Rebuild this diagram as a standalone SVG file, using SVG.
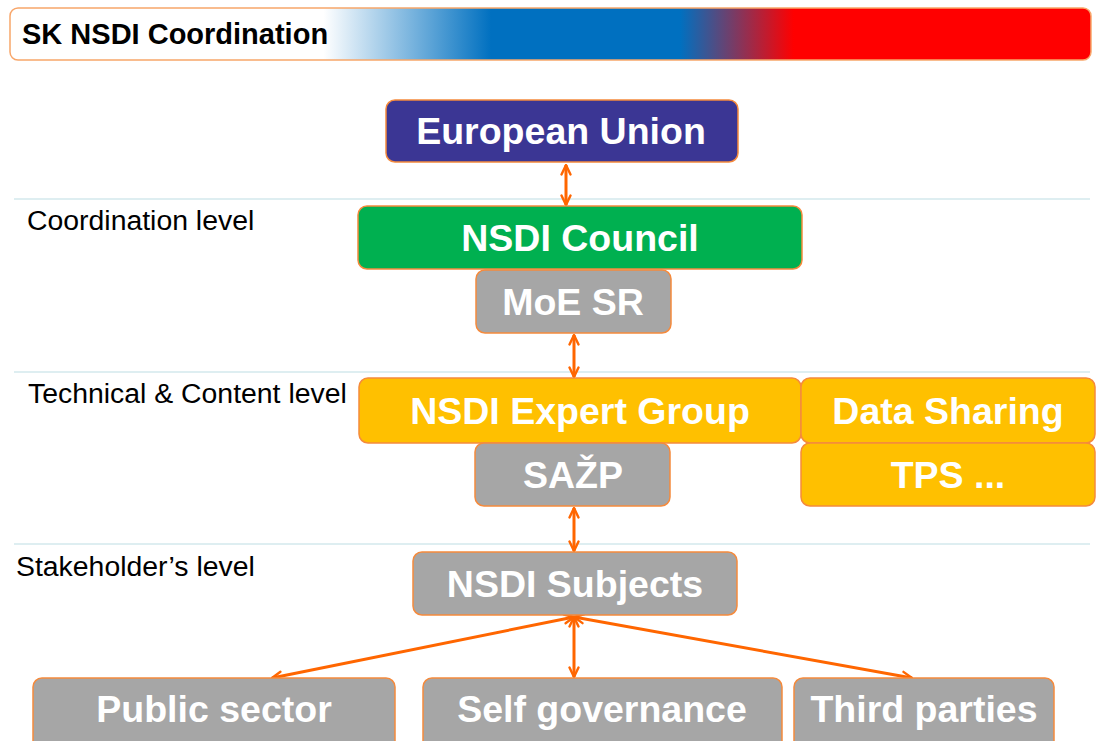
<svg xmlns="http://www.w3.org/2000/svg" width="1097" height="741" viewBox="0 0 1097 741">
<defs>
<linearGradient id="hdr" x1="10" y1="0" x2="1091" y2="0" gradientUnits="userSpaceOnUse">
<stop offset="0" stop-color="#FFFFFF"/>
<stop offset="0.29" stop-color="#FFFFFF"/>
<stop offset="0.445" stop-color="#0070C0"/>
<stop offset="0.62" stop-color="#0070C0"/>
<stop offset="0.725" stop-color="#FF0000"/>
<stop offset="1" stop-color="#FF0000"/>
</linearGradient>
<marker id="ah" viewBox="0 0 12 12" refX="11" refY="6" markerWidth="12" markerHeight="12" markerUnits="userSpaceOnUse" orient="auto-start-reverse">
<path d="M1.5,1.5 L11,6 L1.5,10.5" fill="none" stroke="#FF6600" stroke-width="2.4" stroke-linecap="round" stroke-linejoin="round"/>
</marker>
<style>
.box{stroke:#F58A3C;stroke-width:1.5}
.eu{fill:#3B3694}
.green{fill:#00B050}
.gray{fill:#A6A6A6}
.yellow{fill:#FFC000}
.bt{font-family:"Liberation Sans",Arial,sans-serif;font-weight:bold;font-size:37.5px;fill:#FFFFFF;text-anchor:middle}
.lvl{font-family:"Liberation Sans",Arial,sans-serif;font-size:28.4px;fill:#000000}
.sep{stroke:#D3E8EC;stroke-width:1.5}
.con{stroke:#FF6600;stroke-width:3;fill:none;marker-start:url(#ah);marker-end:url(#ah)}
</style>
</defs>
<rect width="1097" height="741" fill="#FFFFFF"/>
<g id="header">
<rect x="10" y="8" width="1081" height="52" rx="8" fill="url(#hdr)" stroke="#F8A66A" stroke-width="1.5"/>
<text x="22" y="44" font-family="Liberation Sans,Arial,sans-serif" font-weight="bold" font-size="29" fill="#000000">SK NSDI Coordination</text>
</g>
<g id="separators">
<line class="sep" x1="14" y1="199" x2="1090" y2="199"/>
<line class="sep" x1="14" y1="372" x2="1090" y2="372"/>
<line class="sep" x1="14" y1="544" x2="1090" y2="544"/>
</g>
<g id="levels">
<text class="lvl" x="27" y="230">Coordination level</text>
<text class="lvl" x="28" y="403">Technical &amp; Content level</text>
<text class="lvl" x="16" y="576">Stakeholder’s level</text>
</g>
<g id="connectors">
<line class="con" x1="566" y1="165" x2="566" y2="205"/>
<line class="con" x1="574" y1="335" x2="574" y2="377"/>
<line class="con" x1="574" y1="508" x2="574" y2="551"/>
<line class="con" x1="574" y1="617" x2="272" y2="678"/>
<line class="con" x1="574" y1="617" x2="574" y2="677"/>
<line class="con" x1="574" y1="617" x2="912" y2="678"/>
</g>
<g id="european-union">
<rect class="box eu" x="386" y="100" width="352" height="62" rx="9"/>
<text class="bt" x="561" y="144">European Union</text>
</g>
<g id="nsdi-council">
<rect class="box green" x="358" y="206" width="444" height="63" rx="9"/>
<text class="bt" x="580" y="251">NSDI Council</text>
</g>
<g id="moe-sr">
<rect class="box gray" x="476" y="270" width="195" height="63" rx="9"/>
<text class="bt" x="573" y="315">MoE SR</text>
</g>
<g id="nsdi-expert-group">
<rect class="box yellow" x="359" y="378" width="442" height="65" rx="9"/>
<text class="bt" x="580" y="424">NSDI Expert Group</text>
</g>
<g id="data-sharing">
<rect class="box yellow" x="801" y="378" width="294" height="65" rx="9"/>
<text class="bt" x="948" y="424">Data Sharing</text>
</g>
<g id="sazp">
<rect class="box gray" x="475" y="443" width="195" height="63" rx="9"/>
<text class="bt" x="573" y="488">SAŽP</text>
</g>
<g id="tps">
<rect class="box yellow" x="801" y="443" width="294" height="63" rx="9"/>
<text class="bt" x="948" y="488">TPS ...</text>
</g>
<g id="nsdi-subjects">
<rect class="box gray" x="413" y="552" width="324" height="63" rx="9"/>
<text class="bt" x="575" y="597">NSDI Subjects</text>
</g>
<g id="public-sector">
<rect class="box gray" x="33" y="678" width="362" height="75" rx="9"/>
<text class="bt" x="214" y="722">Public sector</text>
</g>
<g id="self-governance">
<rect class="box gray" x="423" y="678" width="359" height="75" rx="9"/>
<text class="bt" x="602" y="722">Self governance</text>
</g>
<g id="third-parties">
<rect class="box gray" x="794" y="678" width="260" height="75" rx="9"/>
<text class="bt" x="924" y="722">Third parties</text>
</g>
</svg>
